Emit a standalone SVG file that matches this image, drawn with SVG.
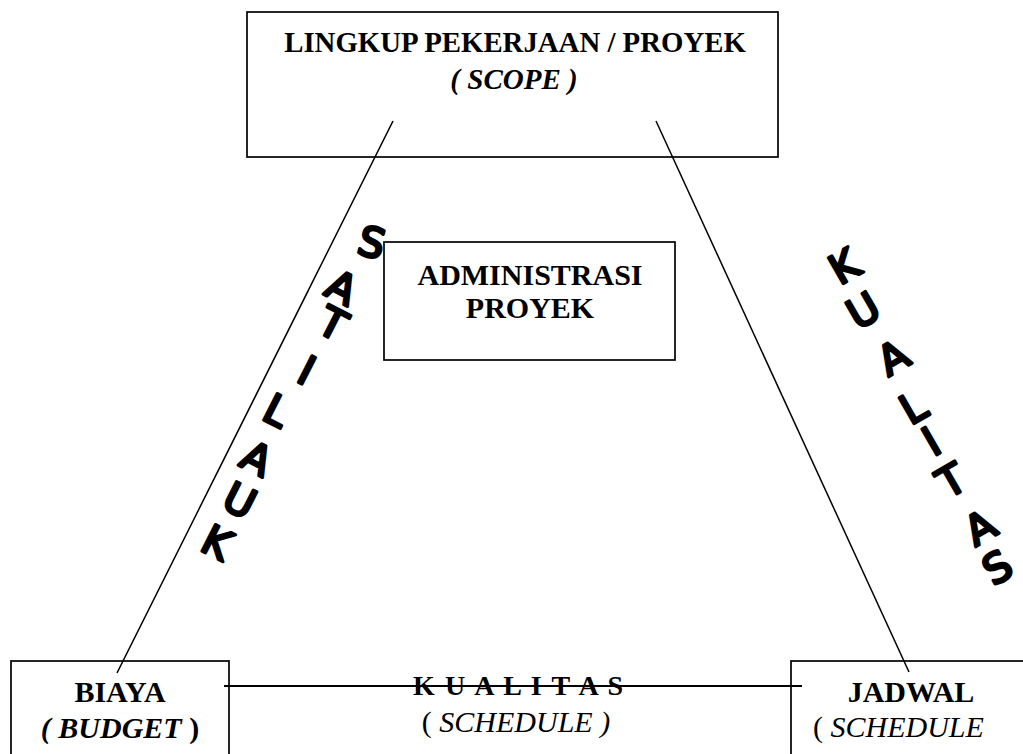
<svg xmlns="http://www.w3.org/2000/svg" width="1023" height="754" viewBox="0 0 1023 754">
<style>
.box{fill:none;stroke:#000;stroke-width:1.7}
.conn{stroke:#000;stroke-width:1.5;fill:none}
.t{font-family:"Liberation Serif","Times New Roman",serif;font-size:30px;fill:#000;text-anchor:middle}
.b{font-weight:bold}
.i{font-style:italic}
.h{font-family:"DejaVu Sans","Noto Sans",sans-serif;font-size:41px;fill:#000;stroke:#000;stroke-width:3;stroke-linejoin:round;stroke-linecap:round;text-anchor:middle}
</style>
<rect width="1023" height="754" fill="#fff"/>
<g id="connectors">
<line class="conn" x1="393" y1="121" x2="117" y2="673"/>
<line class="conn" x1="656" y1="121" x2="909" y2="672"/>
<line class="conn" x1="224" y1="686" x2="802" y2="686" style="stroke-width:1.8"/>
</g>
<g id="scope">
<rect class="box" x="247" y="12" width="531" height="145"/>
<text class="t b" x="515" y="52" style="font-size:28.8px">LINGKUP PEKERJAAN / PROYEK</text>
<text class="t b i" x="514" y="89" style="font-size:29px">( SCOPE )</text>
</g>
<g id="admin">
<rect class="box" x="384" y="242" width="291" height="118"/>
<text class="t b" x="530" y="285">ADMINISTRASI</text>
<text class="t b" x="530" y="318">PROYEK</text>
</g>
<g id="biaya">
<rect class="box" x="11" y="661" width="218" height="110"/>
<text class="t b" x="120" y="702">BIAYA</text>
<text class="t b" x="120" y="738"><tspan class="i">( BUDGET </tspan>)</text>
</g>
<g id="jadwal">
<rect class="box" x="791" y="661" width="260" height="110"/>
<text class="t b" x="911" y="702">JADWAL</text>
<text class="t" x="813" y="737" style="text-anchor:start">( <tspan class="i">SCHEDULE</tspan></text>
</g>
<g id="kualitas-bottom">
<text class="t b" x="518" y="695" textLength="210" lengthAdjust="spacing" style="font-size:28px">K U A L I T A S</text>
<text class="t" x="516" y="732">( <tspan class="i">SCHEDULE )</tspan></text>
</g>
<g id="satilauk">
<text class="h" transform="translate(372,242) rotate(15)" y="15">S</text>
<text class="h" transform="translate(342,287) rotate(27)" y="15">A</text>
<text class="h" transform="translate(333,323) rotate(27)" y="15">T</text>
<text class="h" transform="translate(307,370) rotate(27)" y="15">I</text>
<text class="h" transform="translate(277,410) rotate(27)" y="15">L</text>
<text class="h" transform="translate(257,458) rotate(27)" y="15">A</text>
<text class="h" transform="translate(240,500) rotate(27)" y="15">U</text>
<text class="h" transform="translate(217,542) rotate(27)" y="15">K</text>
</g>
<g id="kualitas-right">
<text class="h" transform="translate(844,266) rotate(-30)" y="15">K</text>
<text class="h" transform="translate(863,310) rotate(-30)" y="15">U</text>
<text class="h" transform="translate(893,357) rotate(-30)" y="15">A</text>
<text class="h" transform="translate(913,407) rotate(-30)" y="15">L</text>
<text class="h" transform="translate(931,441) rotate(-30)" y="15">I</text>
<text class="h" transform="translate(951,480) rotate(-30)" y="15">T</text>
<text class="h" transform="translate(980,527) rotate(-30)" y="15">A</text>
<text class="h" transform="translate(997,567) rotate(-30)" y="15">S</text>
</g>
</svg>
